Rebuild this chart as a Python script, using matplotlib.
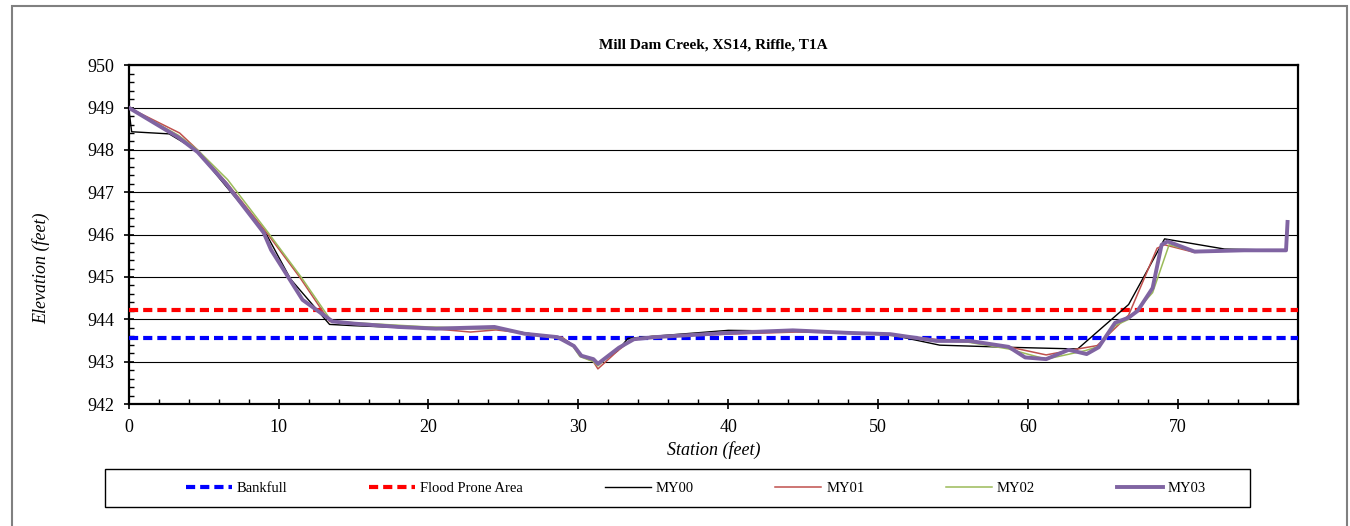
"""
Cross section plot, Mill Dam Creek XS14 (riffle).
"""

import matplotlib
matplotlib.use('Agg')
from matplotlib import pyplot as plt
from matplotlib.patches import Rectangle
from matplotlib.ticker import MultipleLocator

TITLE = 'Mill Dam Creek, XS14, Riffle, T1A'

BANKFULL = 943.57
FLOOD_PRONE = 944.21

# survey data (station ft, elevation ft)
my00_sta = [0, 0.2, 2.7, 4.5, 6.5, 9.2, 10.8, 13.4, 15, 20, 24.5, 27, 28.9, 29.7, 30.2,
            31.0, 31.3, 32.6, 33.3, 35, 40.0, 44.5, 50.5, 54.1, 58.7, 63.3, 66.7, 69.1,
            73.1, 77.2]
my00_elev = [949.0, 948.43, 948.38, 948.0, 947.14, 946.0, 944.95, 943.88, 943.85, 943.78,
             943.78, 943.65, 943.56, 943.38, 943.15, 943.05, 942.95, 943.25, 943.55, 943.6,
             943.74, 943.72, 943.66, 943.39, 943.34, 943.30, 944.35, 945.90, 945.66, 945.63]

my01_sta = [0, 3.4, 4.6, 6.6, 9.2, 11.4, 13.4, 15, 19, 22.8, 24.5, 27, 28.9, 29.6, 30.1,
            31.0, 31.3, 32.6, 33.5, 35, 40, 44.5, 48.3, 50.5, 54, 56, 58.7, 61.2, 63.3,
            64.6, 66.7, 68.6, 69.1, 71.1, 74.4, 77.2, 77.3]
my01_elev = [949.0, 948.4, 948.0, 947.2, 946.05, 945.0, 943.95, 943.9, 943.82, 943.70,
             943.75, 943.65, 943.58, 943.4, 943.15, 943.0, 942.83, 943.25, 943.5, 943.6,
             943.65, 943.7, 943.68, 943.65, 943.52, 943.48, 943.35, 943.16, 943.30, 943.38,
             944.1, 945.68, 945.76, 945.58, 945.63, 945.63, 946.3]

my02_sta = [0, 3.3, 4.6, 6.6, 9.3, 11.5, 13.5, 15, 20, 24.5, 27, 28.9, 29.6, 30.1, 31.0,
            31.3, 32.6, 33.5, 35, 40, 44.5, 48, 50.5, 54, 56, 58.7, 61.2, 63.8, 64.7, 65.8,
            66.7, 68.3, 69.4, 71.1, 74.4, 77.2]
my02_elev = [949.0, 948.35, 948.0, 947.3, 946.05, 945.0, 943.97, 943.92, 943.82, 943.78,
             943.65, 943.56, 943.38, 943.12, 943.0, 942.9, 943.3, 943.53, 943.6, 943.67,
             943.72, 943.68, 943.63, 943.5, 943.46, 943.3, 943.06, 943.26, 943.36, 943.85,
             944.0, 944.63, 945.76, 945.6, 945.63, 945.62]

my03_sta = [0, 3.3, 4.6, 6.5, 9.0, 9.5, 11.6, 13.6, 15, 18, 20.5, 24.4, 26.4, 28.6, 29.7,
            30.2, 31.0, 31.3, 32.7, 33.7, 35.1, 40, 44.3, 48, 50.8, 53.9, 56.1, 58.7, 59.8,
            61.2, 62.7, 63.9, 64.7, 65.8, 66.7, 67.3, 68.3, 68.9, 69.3, 71.1, 74.4, 77.2, 77.3]
my03_elev = [949.0, 948.3, 947.95, 947.2, 946.05, 945.64, 944.46, 943.95, 943.9, 943.82,
             943.78, 943.82, 943.66, 943.58, 943.37, 943.14, 943.06, 942.95, 943.33, 943.53,
             943.58, 943.68, 943.74, 943.68, 943.65, 943.49, 943.49, 943.35, 943.1, 943.06,
             943.28, 943.18, 943.34, 943.92, 944.04, 944.2, 944.74, 945.76, 945.84, 945.6,
             945.63, 945.63, 946.3]

X_MAX = 78
Y_MIN, Y_MAX = 942, 950

plt.rcParams['font.family'] = ['Liberation Serif', 'DejaVu Serif']

W, H = 1350, 526
fig = plt.figure(figsize=(W / 100, H / 100), dpi=100)
ax = fig.add_axes([0.0953, 0.2319, 0.8662, 0.6440])

ax.axhline(BANKFULL, color='#0000FF', lw=3, dashes=(2.2, 1.2), label='Bankfull', zorder=3)
ax.axhline(FLOOD_PRONE, color='#FF0000', lw=3, dashes=(2.2, 1.2), label='Flood Prone Area', zorder=3)
ax.plot(my00_sta, my00_elev, color='black', lw=1.0, label='MY00', zorder=4)
ax.plot(my01_sta, my01_elev, color='#C0504D', lw=1.1, label='MY01', zorder=5)
ax.plot(my02_sta, my02_elev, color='#9BBB59', lw=1.1, label='MY02', zorder=5)
ax.plot(my03_sta, my03_elev, color='#8064A2', lw=2.8, label='MY03', zorder=6)

ax.set_xlim(0, X_MAX)
ax.set_ylim(Y_MIN, Y_MAX)
ax.xaxis.set_major_locator(MultipleLocator(10))
ax.xaxis.set_minor_locator(MultipleLocator(2))
ax.yaxis.set_major_locator(MultipleLocator(1))
ax.yaxis.set_minor_locator(MultipleLocator(0.2))
ax.tick_params(which='major', direction='inout', length=7, width=1.2, labelsize=13, pad=7)
ax.tick_params(which='minor', direction='in', length=3.5, width=1.0)
ax.grid(axis='y', which='major', color='black', lw=0.8)
ax.set_axisbelow(True)
for sp in ax.spines.values():
    sp.set_linewidth(1.6)

ax.set_title(TITLE, fontsize=11, fontweight='bold', pad=12)
ax.set_xlabel('Station (feet)', fontsize=13, style='italic', labelpad=4)
ax.set_ylabel('Elevation (feet)', fontsize=13, style='italic')
ax.yaxis.set_label_coords(-0.067, 0.40)

# legend entries spread evenly, box drawn separately (excel style)
leg = ax.legend(loc='center left', bbox_to_anchor=(186 / W, 1 - 488 / H, (1206 - 186) / W, 0),
                bbox_transform=fig.transFigure, mode='expand', ncol=6, fontsize=10.5,
                handlelength=3.15, handletextpad=0.35, borderaxespad=0, borderpad=0,
                frameon=False)
fig.patches.append(Rectangle((105 / W, 1 - 507 / H), (1250 - 105) / W, 38 / H,
                             transform=fig.transFigure, fill=False,
                             edgecolor='black', lw=1.0, zorder=-1))

# outer chart-area border
fig.patches.append(Rectangle((12 / W, -0.02), (1347 - 12) / W, 1 - 6 / H + 0.02,
                             transform=fig.transFigure, fill=False, edgecolor='#808080',
                             lw=1.5, clip_on=False, zorder=-1))

fig.savefig('out.png', dpi=100)
